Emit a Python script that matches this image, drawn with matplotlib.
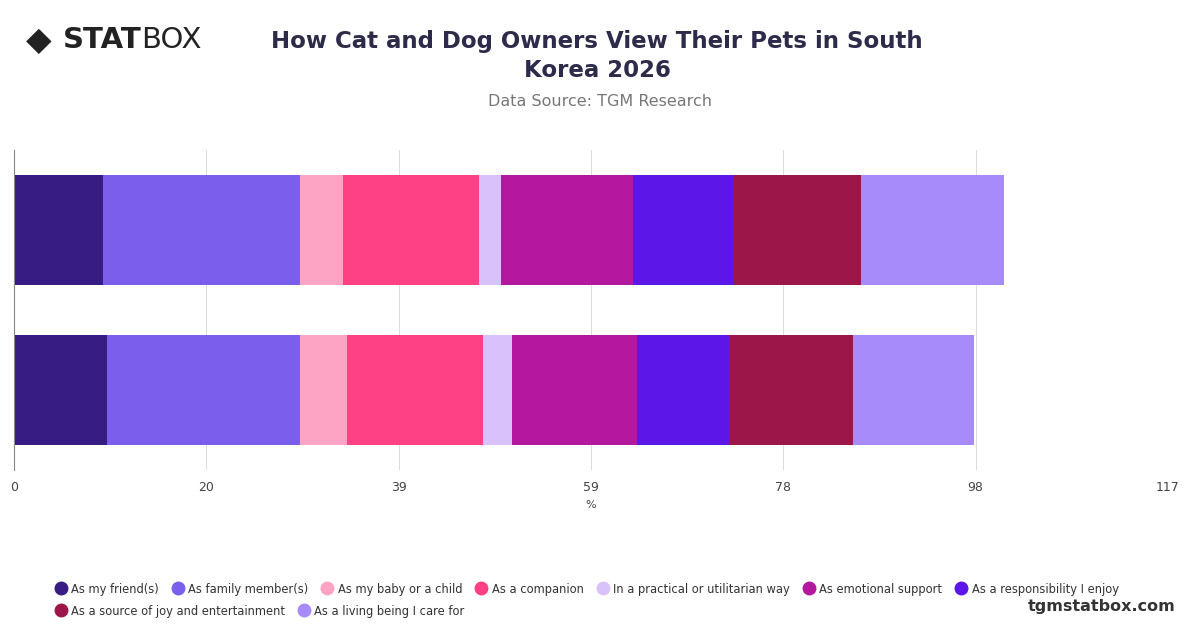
import matplotlib
matplotlib.use("Agg")
import matplotlib.pyplot as plt
import numpy as np

groups = ["Cat owners", "Dog owners"]
series = ["As my friend(s)", "As family member(s)", "As my baby or a child", "As a companion",
          "In a practical or utilitarian way", "As emotional support", "As a responsibility I enjoy",
          "As a source of joy and entertainment", "As a living being I care for"]
values = {
    "Cat owners": [9.0, 20.0, 4.4, 13.7, 2.3, 13.4, 10.2, 12.9, 14.5],
    "Dog owners": [9.4, 19.6, 4.8, 13.7, 3.0, 12.7, 9.3, 12.6, 12.2],
}
colors = ["#371c84", "#7b5fec", "#fda4c4", "#fe4184", "#d9c2fb", "#b3189e", "#5c16e8", "#9c1649", "#a78bfa"]
tick_vals = [0, 19.5, 39, 58.5, 78, 97.5, 117]
tick_labels = ["0", "20", "39", "59", "78", "98", "117"]

fig = plt.figure(figsize=(12, 6.28), dpi=100)
ax = fig.add_axes([14/1200, 1-470/628, 1154/1200, 320/628])
y = np.array([1, 0])
for gi, g in enumerate(groups):
    left = 0
    for si, v in enumerate(values[g]):
        ax.barh(y[gi], v, left=left, height=0.69, color=colors[si], label=series[si] if gi == 0 else None)
        left += v
ax.set_xlim(0, 117)
ax.set_ylim(-0.5, 1.5)
ax.set_xticks(tick_vals)
ax.set_xticklabels(tick_labels, fontsize=9, color="#444")
ax.set_yticks([])
ax.grid(axis="x", color="#dddddd", lw=0.8)
ax.set_axisbelow(True)
for s in ["top", "right", "bottom"]:
    ax.spines[s].set_visible(False)
ax.spines["left"].set_color("#888")
ax.tick_params(axis="x", length=0, pad=8)
ax.set_xlabel("%", fontsize=8, color="#444", labelpad=4)

fig.text(597/1200, 1-56/628, "How Cat and Dog Owners View Their Pets in South\nKorea 2026", ha="center", va="center",
         fontsize=16.5, fontweight="bold", color="#2d2b4a", linespacing=1.35)
fig.text(600/1200, 1-102/628, "Data Source: TGM Research", ha="center", va="center", fontsize=11.5, color="#777")
fig.text(26/1200, 1-40/628, "◆", fontsize=24, color="#222", va="center")
fig.text(63/1200, 1-40/628, "STAT", fontsize=21, fontweight="bold", color="#222", va="center")
fig.text(141/1200, 1-40/628, "BOX", fontsize=21, color="#222", va="center")
fig.text(1176/1200, 1-606/628, "tgmstatbox.com", ha="right", va="center", fontsize=11.5, fontweight="bold", color="#333")

h = [plt.Line2D([], [], marker="o", ls="", markersize=9, color=c) for c in colors]
kw = dict(frameon=False, fontsize=8.3, handletextpad=0.15, columnspacing=0.9, labelcolor="#333",
          borderaxespad=0, borderpad=0, handlelength=1.5)
fig.legend(h[:7], series[:7], loc="center left", bbox_to_anchor=(52/1200, 1-589/628), ncol=7, **kw)
fig.legend(h[7:], series[7:], loc="center left", bbox_to_anchor=(52/1200, 1-611/628), ncol=2, **kw)
fig.savefig("out.png", dpi=100)
